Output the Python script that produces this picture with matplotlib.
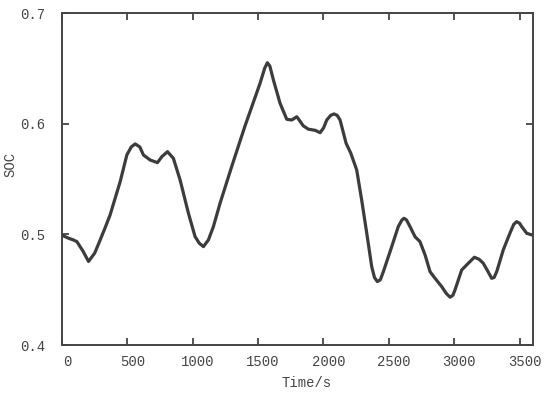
import matplotlib
matplotlib.use("Agg")
import matplotlib.pyplot as plt
import matplotlib.transforms as mtransforms

# SOC curve
time_s = [0, 11, 50, 88, 114, 160, 203, 250, 292, 330, 368, 405, 445, 496, 530, 560,
          595, 623, 674, 730, 764, 807, 852, 904, 967, 1018, 1050, 1082, 1120, 1158, 1209,
          1300, 1400, 1515, 1550, 1571, 1590, 1617, 1668, 1719, 1757, 1796, 1846, 1885,
          1936, 1974, 2000, 2025, 2055, 2081, 2105, 2127, 2173, 2209, 2254, 2292, 2331,
          2369, 2390, 2412, 2435, 2458, 2522, 2572, 2600, 2616, 2635, 2662, 2700, 2738,
          2777, 2815, 2853, 2904, 2940, 2968, 2990, 3006, 3057, 3108, 3154, 3190, 3222,
          3260, 3286, 3305, 3325, 3375, 3426, 3455, 3477, 3500, 3516, 3554, 3592]
soc = [0.4990, 0.4986, 0.4965, 0.4949, 0.4934, 0.4850, 0.4755, 0.4830, 0.4949, 0.5060, 0.5175,
       0.5320, 0.5476, 0.5717, 0.5790, 0.5817, 0.5790, 0.5717, 0.5672, 0.5648, 0.5702,
       0.5747, 0.5687, 0.5489, 0.5191, 0.4979, 0.4920, 0.4889, 0.4950, 0.5070, 0.5281,
       0.5620, 0.5980, 0.6365, 0.6500, 0.6551, 0.6520, 0.6395, 0.6184, 0.6040, 0.6033,
       0.6063, 0.5980, 0.5950, 0.5940, 0.5919, 0.5960, 0.6033, 0.6075, 0.6088, 0.6075,
       0.6033, 0.5823, 0.5733, 0.5582, 0.5311, 0.5010, 0.4708, 0.4610, 0.4573, 0.4590,
       0.4663, 0.4889, 0.5070, 0.5130, 0.5145, 0.5130, 0.5070, 0.4979, 0.4934, 0.4814,
       0.4663, 0.4603, 0.4528, 0.4465, 0.4432, 0.4450, 0.4498, 0.4678, 0.4739, 0.4793,
       0.4775, 0.4739, 0.4660, 0.4603, 0.4610, 0.4663, 0.4859, 0.5010, 0.5090, 0.5115,
       0.5100, 0.5070, 0.5010, 0.4995]

x_ticks = [0, 500, 1000, 1500, 2000, 2500, 3000, 3500]
y_ticks = [0.4, 0.5, 0.6, 0.7]

plt.rcParams['font.family'] = ['Liberation Mono', 'DejaVu Sans Mono']
text_col = "#444444"

fig = plt.figure(figsize=(5.5, 3.93), dpi=100)
ax = fig.add_axes([0.1127, 0.1221, 0.8558, 0.8448])

ax.plot(time_s, soc, color="#3c3c3c", lw=2.3, solid_capstyle="round", solid_joinstyle="round")

ax.set_xlim(0, 3600)
ax.set_ylim(0.4, 0.7)
ax.set_xticks(x_ticks)
ax.set_yticks(y_ticks)
ax.set_yticklabels([f"{v:.1f}" for v in y_ticks])

for s in ax.spines.values():
    s.set_color("#444444")
    s.set_linewidth(1.4)

ax.tick_params(direction="in", length=5, width=1.3, color="#444444",
               top=True, right=True, labelsize=10, labelcolor=text_col)
ax.tick_params(axis="x", pad=7)
ax.tick_params(axis="y", pad=12)

offset = mtransforms.ScaledTranslation(5 / 100, 0, fig.dpi_scale_trans)
for lab in ax.get_xticklabels():
    lab.set_transform(lab.get_transform() + offset)

ax.set_xlabel("Time/s", fontsize=10, color=text_col)
ax.set_ylabel("SOC", fontsize=10, color=text_col)
ax.xaxis.set_label_coords(0.52, -0.092)
ax.yaxis.set_label_coords(-0.094, 0.545)

fig.savefig("out.png", dpi=100)
